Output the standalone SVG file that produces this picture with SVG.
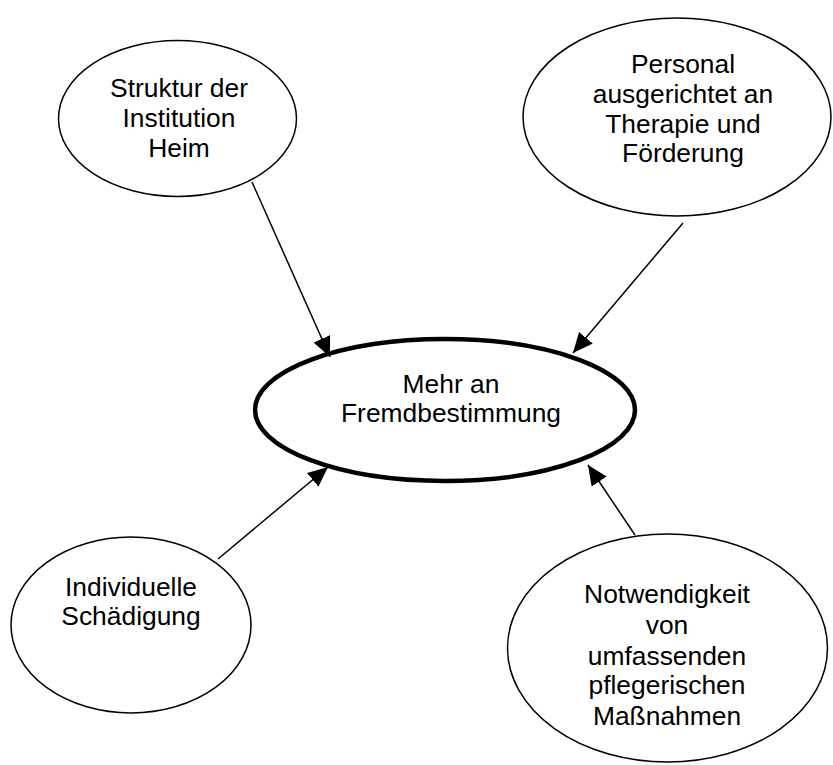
<svg xmlns="http://www.w3.org/2000/svg" width="833" height="765" viewBox="0 0 833 765">
  <style>
    .node ellipse { fill: #ffffff; stroke: #000000; stroke-width: 1.5; }
    #n-center ellipse { stroke-width: 4.5; }
    text { font-family: "Liberation Sans", Arial, sans-serif; font-size: 26.4px; fill: #000000; text-anchor: middle; }
    .edge { stroke: #000000; stroke-width: 1.5; fill: none; marker-end: url(#arrow); }
  </style>
  <defs>
    <marker id="arrow" markerUnits="userSpaceOnUse" markerWidth="22" markerHeight="20" refX="20" refY="9" orient="auto">
      <path d="M0,0 L20,9 L0,18 Z" fill="#000000"/>
    </marker>
  </defs>

  <rect width="833" height="765" fill="#ffffff"/>

  <g id="n-struktur" class="node">
    <ellipse cx="177.5" cy="118.5" rx="119" ry="78"/>
    <text x="179" y="97">Struktur der</text>
    <text x="179" y="127">Institution</text>
    <text x="179" y="157">Heim</text>
  </g>

  <g id="n-personal" class="node">
    <ellipse cx="677" cy="117" rx="154" ry="99"/>
    <text x="683" y="73">Personal</text>
    <text x="683" y="103">ausgerichtet an</text>
    <text x="683" y="133">Therapie und</text>
    <text x="683" y="162">Förderung</text>
  </g>

  <g id="n-center" class="node">
    <ellipse cx="445" cy="410" rx="190" ry="71"/>
    <text x="451" y="393">Mehr an</text>
    <text x="451" y="422">Fremdbestimmung</text>
  </g>

  <g id="n-individuell" class="node">
    <ellipse cx="131" cy="625" rx="120" ry="88"/>
    <text x="131" y="596">Individuelle</text>
    <text x="131" y="625">Schädigung</text>
  </g>

  <g id="n-notwendigkeit" class="node">
    <ellipse cx="667.5" cy="648" rx="160" ry="114"/>
    <text x="667" y="603">Notwendigkeit</text>
    <text x="667" y="634">von</text>
    <text x="667" y="665">umfassenden</text>
    <text x="667" y="694">pflegerischen</text>
    <text x="667" y="725">Maßnahmen</text>
  </g>

  <g id="connectors">
    <line class="edge" x1="252" y1="182" x2="330" y2="357"/>
    <line class="edge" x1="683" y1="223" x2="573" y2="353"/>
    <line class="edge" x1="218" y1="559" x2="328" y2="467"/>
    <line class="edge" x1="635" y1="535" x2="588" y2="465"/>
  </g>
</svg>
